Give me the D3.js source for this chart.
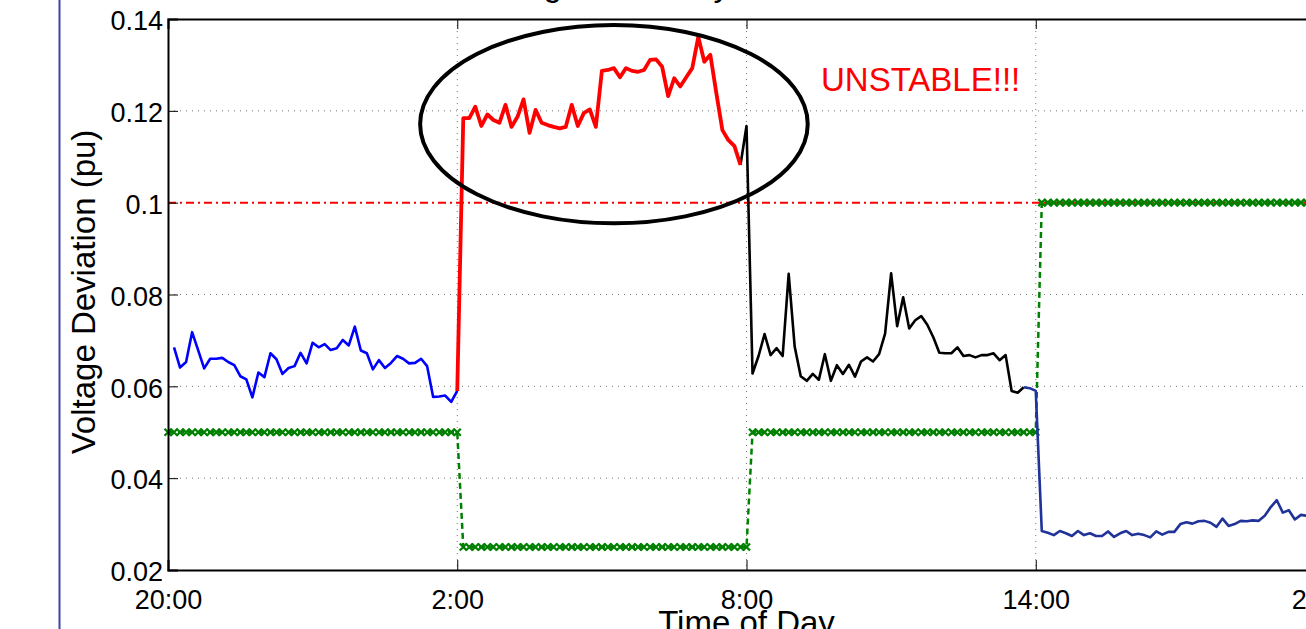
<!DOCTYPE html>
<html>
<head>
<meta charset="utf-8">
<script src="https://cdn.jsdelivr.net/npm/d3@7"></script>
<style>
  body { margin: 0; background: #fff; }
  svg { display: block; overflow: hidden; }
  text { font-family: "Liberation Sans", Arial, Helvetica, sans-serif; }
</style>
</head>
<body>
<div id="chart"></div>
<script>
// time axis: hours after 20:00, one sample every 7.5 min (step index)
const stepHours = 0.125;
const xTicks = [0, 6, 12, 18, 24];
const xTickLabels = ['20:00', '2:00', '8:00', '14:00', '20:00'];
const yTicks = [0.02, 0.04, 0.06, 0.08, 0.1, 0.12, 0.14];

// first evening segment (blue), starts at step 1
const blueStart = 1;
const blueValues = [
  0.0685, 0.0641, 0.0653, 0.0718, 0.0679, 0.0639, 0.0660, 0.0660, 0.0662, 0.0653,
  0.0646, 0.0622, 0.0615, 0.0576, 0.0630, 0.0620, 0.0672, 0.0659, 0.0627, 0.0640,
  0.0644, 0.0673, 0.0650, 0.0695, 0.0685, 0.0692, 0.0679, 0.0683, 0.0701, 0.0689,
  0.0730, 0.0678, 0.0672, 0.0637, 0.0657, 0.0640, 0.0651, 0.0666, 0.0660, 0.0650,
  0.0651, 0.0660, 0.0644, 0.0577, 0.0578, 0.0580, 0.0566, 0.0590
];

// unstable night segment (red), starts at step 48
const redStart = 48;
const redValues = [
  0.0590, 0.1184, 0.1184, 0.1209, 0.1167, 0.1192, 0.1180, 0.1174, 0.1213, 0.1165,
  0.1187, 0.1225, 0.1152, 0.1202, 0.1174, 0.1169, 0.1165, 0.1162, 0.1165, 0.1213,
  0.1167, 0.1195, 0.1203, 0.1165, 0.1287, 0.1289, 0.1293, 0.1273, 0.1293, 0.1287,
  0.1285, 0.1289, 0.1311, 0.1312, 0.1296, 0.1232, 0.1271, 0.1253, 0.1273, 0.1293,
  0.1361, 0.1307, 0.1322, 0.1238, 0.1158, 0.1136, 0.1123, 0.1082
];

// day segment (black), starts at step 95
const blackStart = 95;
const blackValues = [
  0.1082, 0.1167, 0.0628, 0.0666, 0.0714, 0.0668, 0.0683, 0.0666, 0.0845, 0.0686,
  0.0622, 0.0612, 0.0627, 0.0614, 0.0670, 0.0612, 0.0646, 0.0627, 0.0647, 0.0621,
  0.0654, 0.0663, 0.0654, 0.0670, 0.0715, 0.0846, 0.0731, 0.0794, 0.0726, 0.0744,
  0.0753, 0.0734, 0.0707, 0.0673, 0.0672, 0.0672, 0.0685, 0.0666, 0.0668, 0.0663,
  0.0668, 0.0668, 0.0672, 0.0657, 0.0668, 0.0590, 0.0586, 0.0598
];

// afternoon segment (navy), starts at step 142
const navyStart = 142;
const navyValues = [
  0.0598, 0.0596, 0.0590, 0.0285, 0.0281, 0.0276, 0.0285, 0.0280, 0.0274, 0.0285,
  0.0276, 0.0280, 0.0274, 0.0274, 0.0284, 0.0272, 0.0280, 0.0285, 0.0276, 0.0279,
  0.0276, 0.0271, 0.0284, 0.0277, 0.0283, 0.0283, 0.0300, 0.0304, 0.0301, 0.0306,
  0.0307, 0.0303, 0.0294, 0.0312, 0.0296, 0.0300, 0.0307, 0.0306, 0.0308, 0.0307,
  0.0318, 0.0337, 0.0352, 0.0325, 0.0330, 0.0310, 0.0320, 0.0318, 0.0318
];

// allowed deviation band (green, x markers), steps 0..192
const limitStart = 0;
const limitValues = [
  0.05, 0.05, 0.05, 0.05, 0.05, 0.05, 0.05, 0.05, 0.05, 0.05, 0.05, 0.05,
  0.05, 0.05, 0.05, 0.05, 0.05, 0.05, 0.05, 0.05, 0.05, 0.05, 0.05, 0.05,
  0.05, 0.05, 0.05, 0.05, 0.05, 0.05, 0.05, 0.05, 0.05, 0.05, 0.05, 0.05,
  0.05, 0.05, 0.05, 0.05, 0.05, 0.05, 0.05, 0.05, 0.05, 0.05, 0.05, 0.05, 0.05,
  0.025, 0.025, 0.025, 0.025, 0.025, 0.025, 0.025, 0.025, 0.025, 0.025, 0.025, 0.025,
  0.025, 0.025, 0.025, 0.025, 0.025, 0.025, 0.025, 0.025, 0.025, 0.025, 0.025, 0.025,
  0.025, 0.025, 0.025, 0.025, 0.025, 0.025, 0.025, 0.025, 0.025, 0.025, 0.025, 0.025,
  0.025, 0.025, 0.025, 0.025, 0.025, 0.025, 0.025, 0.025, 0.025, 0.025, 0.025, 0.025,
  0.05, 0.05, 0.05, 0.05, 0.05, 0.05, 0.05, 0.05, 0.05, 0.05, 0.05, 0.05,
  0.05, 0.05, 0.05, 0.05, 0.05, 0.05, 0.05, 0.05, 0.05, 0.05, 0.05, 0.05,
  0.05, 0.05, 0.05, 0.05, 0.05, 0.05, 0.05, 0.05, 0.05, 0.05, 0.05, 0.05,
  0.05, 0.05, 0.05, 0.05, 0.05, 0.05, 0.05, 0.05, 0.05, 0.05, 0.05, 0.05,
  0.1, 0.1, 0.1, 0.1, 0.1, 0.1, 0.1, 0.1, 0.1, 0.1, 0.1, 0.1,
  0.1, 0.1, 0.1, 0.1, 0.1, 0.1, 0.1, 0.1, 0.1, 0.1, 0.1, 0.1,
  0.1, 0.1, 0.1, 0.1, 0.1, 0.1, 0.1, 0.1, 0.1, 0.1, 0.1, 0.1,
  0.1, 0.1, 0.1, 0.1, 0.1, 0.1, 0.1, 0.1, 0.1, 0.1, 0.1, 0.1
];

const thresholdValue = 0.1;

// annotation: ellipse round the unstable part, text beside it
const ellipseCenter = { hour: 9.25, value: 0.1171 };
const ellipseRadius = { hours: 4.02, value: 0.0216 };
const noteText = 'UNSTABLE!!!';
const notePos = { hour: 13.545, value: 0.1244 };

const titleText = 'Voltage Variability';
const xLabel = 'Time of Day';
const yLabel = 'Voltage Deviation (pu)';

const W = 1306, H = 629;
const margin = { top: 19, left: 168, bottom: 59, right: -19 };
const width = W - margin.left - margin.right;   // 1157
const height = H - margin.top - margin.bottom;  // 551

const svg = d3.select('#chart')
  .append('svg')
  .attr('width', W)
  .attr('height', H);

// page frame line on the left
svg.append('line')
  .attr('x1', 59.5).attr('x2', 59.5)
  .attr('y1', 0).attr('y2', H)
  .attr('stroke', '#3c46a0')
  .attr('stroke-width', 2);

const g = svg.append('g')
  .attr('transform', `translate(${margin.left},${margin.top})`);

const x = d3.scaleLinear().domain([0, 24]).range([0, width]);
const y = d3.scaleLinear().domain([0.02, 0.14]).range([height, 0]);

// grid
g.append('g')
  .selectAll('line')
  .data(yTicks.slice(1, -1))
  .enter().append('line')
  .attr('x1', 0).attr('x2', width)
  .attr('y1', d => y(d)).attr('y2', d => y(d))
  .attr('stroke', '#777')
  .attr('stroke-width', 1)
  .attr('stroke-dasharray', '1,5');

g.append('g')
  .selectAll('line')
  .data(xTicks.slice(1, -1))
  .enter().append('line')
  .attr('x1', d => x(d)).attr('x2', d => x(d))
  .attr('y1', 0).attr('y2', height)
  .attr('stroke', '#777')
  .attr('stroke-width', 1)
  .attr('stroke-dasharray', '1,5');

// threshold dash-dot
g.append('line')
  .attr('x1', 0).attr('x2', width)
  .attr('y1', y(thresholdValue)).attr('y2', y(thresholdValue))
  .attr('stroke', '#ff0000')
  .attr('stroke-width', 2)
  .attr('stroke-dasharray', '8,4,2,4');

const toPoints = (start, vals) => vals.map((v, i) => ({ h: (start + i) * stepHours, v }));
const line = d3.line().x(d => x(d.h)).y(d => y(d.v));

// green limit with x markers
const limitPts = toPoints(limitStart, limitValues);
g.append('path')
  .datum(limitPts)
  .attr('d', line)
  .attr('fill', 'none')
  .attr('stroke', '#008000')
  .attr('stroke-width', 2.5)
  .attr('stroke-dasharray', '6,4');

const m = 3.5;
g.append('g')
  .selectAll('path')
  .data(limitPts)
  .enter().append('path')
  .attr('d', d => {
    const cx = x(d.h), cy = y(d.v);
    return `M${cx - m},${cy - m}L${cx + m},${cy + m}M${cx - m},${cy + m}L${cx + m},${cy - m}`;
  })
  .attr('stroke', '#008000')
  .attr('stroke-width', 2.3);

// voltage deviation segments
const segments = [
  { start: blueStart, vals: blueValues, color: '#0000ff', w: 2.6 },
  { start: blackStart, vals: blackValues, color: '#000000', w: 2.6 },
  { start: navyStart, vals: navyValues, color: '#1f3399', w: 2.6 },
  { start: redStart, vals: redValues, color: '#ff0000', w: 3.8 }
];

segments.forEach(s => {
  g.append('path')
    .datum(toPoints(s.start, s.vals))
    .attr('d', line)
    .attr('fill', 'none')
    .attr('stroke', s.color)
    .attr('stroke-width', s.w)
    .attr('stroke-linejoin', 'round');
});

// ellipse
g.append('ellipse')
  .attr('cx', x(ellipseCenter.hour))
  .attr('cy', y(ellipseCenter.value))
  .attr('rx', x(ellipseRadius.hours) - x(0))
  .attr('ry', y(ellipseCenter.value - ellipseRadius.value) - y(ellipseCenter.value))
  .attr('fill', 'none')
  .attr('stroke', '#000')
  .attr('stroke-width', 4);

g.append('text')
  .attr('x', x(notePos.hour))
  .attr('y', y(notePos.value))
  .attr('fill', '#ff0000')
  .style('font-size', '33px')
  .text(noteText);

// axes
const xAxis = g.append('g')
  .attr('transform', `translate(0,${height})`)
  .call(d3.axisBottom(x).tickValues(xTicks).tickFormat((d, i) => xTickLabels[i]).tickSize(-10).tickPadding(20));
xAxis.select('.domain').attr('stroke-width', 2);
xAxis.selectAll('text').style('font-size', '27px').attr('fill', '#000');

const xTop = g.append('g')
  .call(d3.axisTop(x).tickValues(xTicks).tickFormat('').tickSize(-10));
xTop.select('.domain').attr('stroke-width', 2);

const yAxis = g.append('g')
  .call(d3.axisLeft(y).tickValues(yTicks).tickFormat(d => d3.format('')(+d.toFixed(2))).tickSize(-10).tickPadding(5));
yAxis.select('.domain').attr('stroke-width', 2);
yAxis.selectAll('text').style('font-size', '27px').attr('fill', '#000').attr('dy', '0.4em');

// labels
svg.append('text')
  .attr('x', margin.left + width / 2)
  .attr('y', 634)
  .attr('text-anchor', 'middle')
  .style('font-size', '33px')
  .text(xLabel);

svg.append('text')
  .attr('transform', 'translate(95,292) rotate(-90)')
  .attr('text-anchor', 'middle')
  .style('font-size', '33px')
  .text(yLabel);

svg.append('text')
  .attr('x', 470)
  .attr('y', -4.5)
  .style('font-size', '33px')
  .text(titleText);
</script>
</body>
</html>
